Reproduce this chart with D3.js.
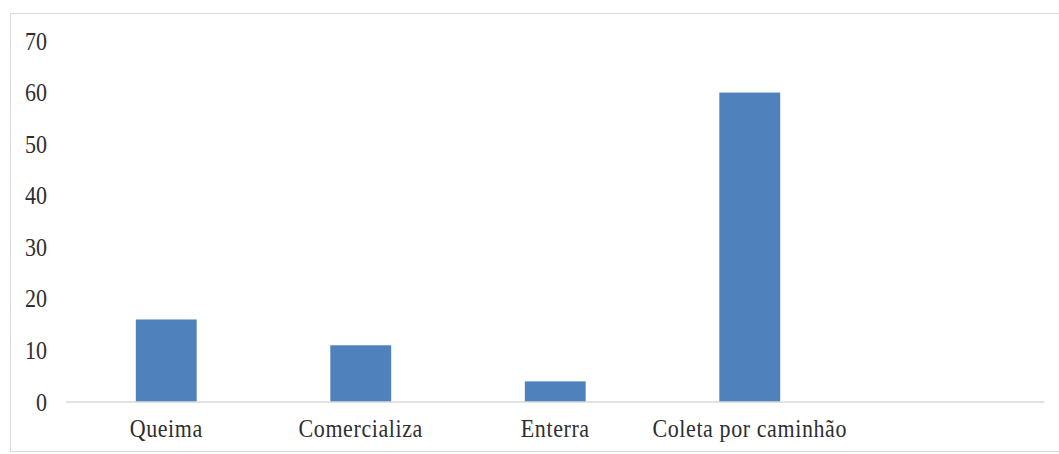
<!DOCTYPE html>
<html>
<head>
<meta charset="utf-8">
<script src="https://cdn.jsdelivr.net/npm/d3@7/dist/d3.min.js"></script>
<style>
  html, body { margin: 0; padding: 0; background: #fff; }
  svg { display: block; }
  text { font-family: "Liberation Serif", "Times New Roman", serif; fill: #2e2e2e; }
</style>
</head>
<body>
<svg id="chart" width="1059" height="454"></svg>
<script>
// Destino dos resíduos
const categories = ["Queima", "Comercializa", "Enterra", "Coleta por caminhão", ""];
const values = [16, 11, 4, 60, null];
const yTicks = [0, 10, 20, 30, 40, 50, 60, 70];

const svg = d3.select("#chart");
const W = 1059;
const textStretch = 1.14; // slightly tall glyphs

// chart frame
svg.append("rect")
  .attr("x", 10.5).attr("y", 13.5)
  .attr("width", W).attr("height", 438)
  .attr("fill", "#fff")
  .attr("stroke", "#d9d9d9").attr("stroke-width", 1);

const x = d3.scaleBand()
  .domain(categories)
  .range([69, 1041.5])
  .paddingInner(0.687)
  .paddingOuter(0.3435);

const y = d3.scaleLinear()
  .domain([0, 70])
  .range([402, 41]);

// bars
svg.append("g")
  .selectAll("rect")
  .data(categories.map((c, i) => ({ c, v: values[i] })).filter(d => d.v != null))
  .join("rect")
  .attr("x", d => x(d.c))
  .attr("y", d => y(d.v))
  .attr("width", x.bandwidth())
  .attr("height", d => y(0) - y(d.v))
  .attr("fill", "#4f81bd");

// y axis labels (no line, no ticks)
const yAxis = svg.append("g")
  .attr("transform", "translate(47,0)")
  .call(d3.axisLeft(y).tickValues(yTicks).tickSize(0).tickPadding(0));
yAxis.select(".domain").remove();
yAxis.selectAll("text")
  .attr("font-size", 22)
  .attr("font-family", null)
  .attr("dy", "0.32em")
  .attr("transform", `scale(1,${textStretch})`);

// x axis
const xAxis = svg.append("g")
  .attr("transform", "translate(0,402)")
  .call(d3.axisBottom(x).tickSize(0).tickPadding(0).tickSizeOuter(0));
xAxis.select(".domain").remove();
const [r0, r1] = x.range();
xAxis.append("line")
  .attr("x1", r0 - 3).attr("x2", r1 + 3)
  .attr("y1", 0).attr("y2", 0)
  .attr("stroke", "#d9d9d9")
  .attr("stroke-width", 1.5);
xAxis.selectAll("text")
  .attr("font-size", 22)
  .attr("font-family", null)
  .attr("letter-spacing", "0.6px")
  .attr("dy", null)
  .attr("y", 35 / textStretch)
  .attr("transform", `scale(1,${textStretch})`);
</script>
</body>
</html>
